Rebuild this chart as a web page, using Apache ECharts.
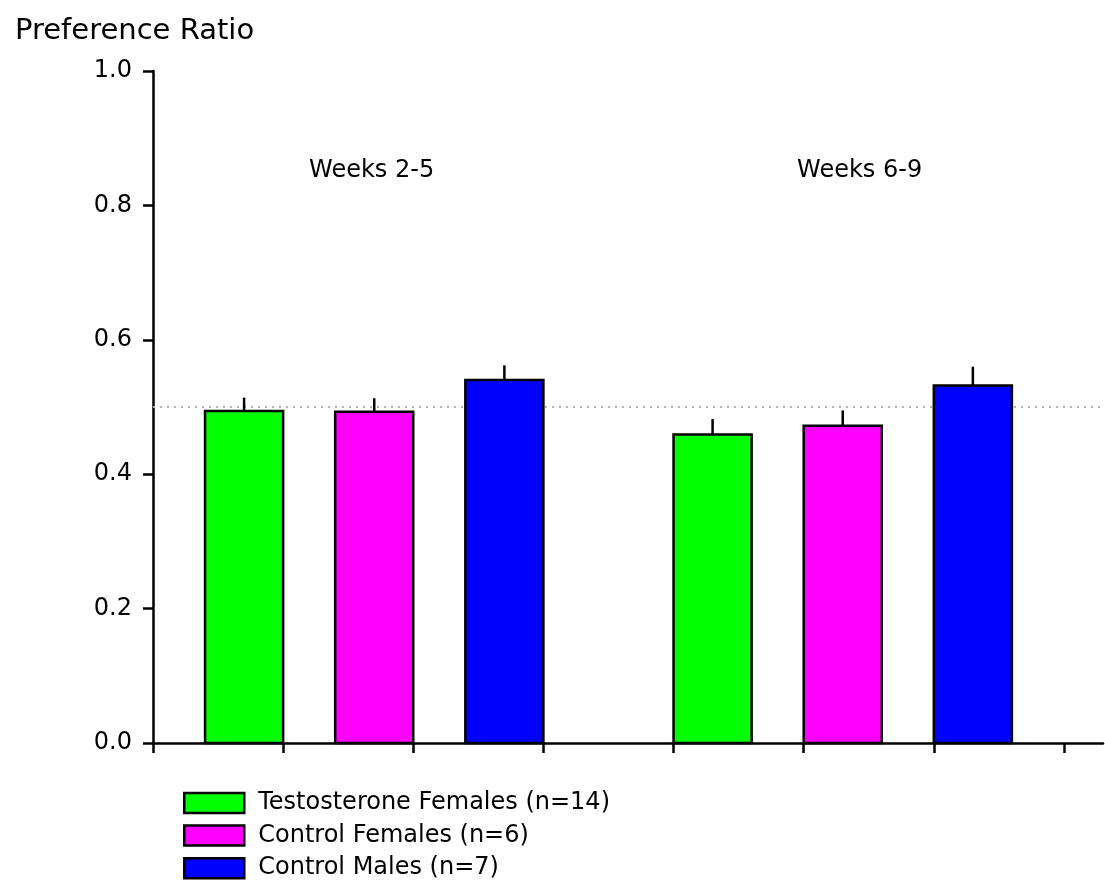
<!DOCTYPE html>
<html>
<head>
<meta charset="utf-8">
<title>Preference Ratio</title>
<script src="https://cdn.jsdelivr.net/npm/echarts@6/dist/echarts.min.js"></script>
<style>
  html, body { margin: 0; padding: 0; background: #fff; }
  #chart { width: 1105px; height: 885px; }
</style>
</head>
<body>
<div id="chart"></div>
<script>
// Test periods and groups
const periods = ['Weeks 2-5', 'Weeks 6-9'];
const groupNames = ['Testosterone Females (n=14)', 'Control Females (n=6)', 'Control Males (n=7)'];

// Mean preference ratio per period, with SEM
const testosteroneFemales    = [0.494, 0.459];
const testosteroneFemalesSem = [0.020, 0.023];
const controlFemales         = [0.493, 0.472];
const controlFemalesSem      = [0.020, 0.023];
const controlMales           = [0.540, 0.532];
const controlMalesSem        = [0.022, 0.028];

// Y axis ticks and the no-preference reference level
const yTicks = [0.0, 0.2, 0.4, 0.6, 0.8, 1.0];
const chanceLevel = 0.5;

// ---- layout (axis units on the x scale) ----
const groupColors = ['#00ff00', '#ff00ff', '#0000ff'];
const barWidthUnits = 0.6;
const xTickValues = [0, 1, 2, 3, 4, 5, 6, 7];
const xMax = 7.3;
// first period: bars end on ticks 1..3; second period: bars start on ticks 4..6
function barCenter(periodIndex, groupIndex) {
  return periodIndex === 0
    ? (groupIndex + 1) - barWidthUnits / 2
    : (groupIndex + 4) + barWidthUnits / 2;
}
const periodLabelAnchors = [[1.68, 0.852], [5.43, 0.852]];

const FONT = 'DejaVu Sans';
const LINE_W = 2.5;
const means = [testosteroneFemales, controlFemales, controlMales];
const sems = [testosteroneFemalesSem, controlFemalesSem, controlMalesSem];

function makeRenderer(color) {
  return function (params, api) {
    const x = api.value(0);
    const y = api.value(1);
    const e = api.value(2);
    const tl = api.coord([x - barWidthUnits / 2, y]);
    const br = api.coord([x + barWidthUnits / 2, 0]);
    const mid = api.coord([x, y]);
    const errTop = api.coord([x, y + e]);
    return {
      type: 'group',
      children: [
        {
          type: 'line',
          shape: { x1: mid[0], y1: mid[1], x2: errTop[0], y2: errTop[1] },
          style: { stroke: '#000', lineWidth: LINE_W }
        },
        {
          type: 'rect',
          shape: { x: tl[0], y: tl[1], width: br[0] - tl[0], height: br[1] - tl[1] },
          style: { fill: color, stroke: '#000', lineWidth: LINE_W }
        }
      ]
    };
  };
}

const barSeries = groupNames.map(function (name, g) {
  return {
    name: name,
    type: 'custom',
    z: 3,
    itemStyle: { color: groupColors[g], borderColor: '#000', borderWidth: LINE_W },
    encode: { x: 0, y: 1 },
    renderItem: makeRenderer(groupColors[g]),
    data: periods.map(function (p, i) {
      return [barCenter(i, g), means[g][i], sems[g][i]];
    })
  };
});

const chart = echarts.init(document.getElementById('chart'), null, { renderer: 'canvas' });

chart.setOption({
  animation: false,
  backgroundColor: '#fff',
  title: {
    text: 'Preference Ratio',
    left: 10,
    top: 12,
    textStyle: { fontFamily: FONT, fontSize: 29, fontWeight: 'normal', color: '#000' }
  },
  legend: {
    orient: 'vertical',
    left: 183,
    top: 791,
    padding: 0,
    itemWidth: 60,
    itemHeight: 20,
    itemGap: 8.6,
    selectedMode: false,
    textStyle: { fontFamily: FONT, fontSize: 24, color: '#000', lineHeight: 24, padding: [0, 0, 0, 9] },
    data: groupNames.map(function (n, i) {
      return {
        name: n,
        icon: 'rect',
        itemStyle: { color: groupColors[i], borderColor: '#000', borderWidth: LINE_W }
      };
    })
  },
  grid: { left: 153, right: 2, top: 71, bottom: 142, containLabel: false },
  xAxis: {
    type: 'value',
    min: 0,
    max: xMax,
    interval: 1,
    axisLine: { show: true, onZero: true, lineStyle: { color: '#000', width: LINE_W } },
    axisTick: { show: true, length: 10, inside: false, customValues: xTickValues, lineStyle: { color: '#000', width: LINE_W } },
    axisLabel: { show: false },
    splitLine: { show: false }
  },
  yAxis: {
    type: 'value',
    min: yTicks[0],
    max: yTicks[yTicks.length - 1],
    interval: yTicks[1] - yTicks[0],
    axisLine: { show: true, lineStyle: { color: '#000', width: LINE_W } },
    axisTick: { show: true, length: 10, inside: false, lineStyle: { color: '#000', width: LINE_W } },
    axisLabel: {
      margin: 21,
      fontFamily: FONT,
      fontSize: 24,
      color: '#000',
      formatter: function (v) { return v.toFixed(1); }
    },
    splitLine: { show: false }
  },
  series: [
    {
      name: 'reference',
      type: 'line',
      data: [],
      z: 1,
      silent: true,
      markLine: {
        silent: true,
        z: 1,
        symbol: 'none',
        label: { show: false },
        lineStyle: { color: '#b4b4b4', width: 2, type: [2, 5] },
        data: [{ yAxis: chanceLevel }]
      }
    },
    {
      name: 'periods',
      type: 'custom',
      z: 4,
      silent: true,
      encode: { x: 0, y: 1 },
      renderItem: function (params, api) {
        const p = api.coord([api.value(0), api.value(1)]);
        return {
          type: 'text',
          style: {
            text: periods[params.dataIndex],
            x: p[0],
            y: p[1],
            align: 'center',
            verticalAlign: 'middle',
            fill: '#000',
            font: '24px "' + FONT + '"'
          }
        };
      },
      data: periodLabelAnchors
    }
  ].concat(barSeries)
});
</script>
</body>
</html>
